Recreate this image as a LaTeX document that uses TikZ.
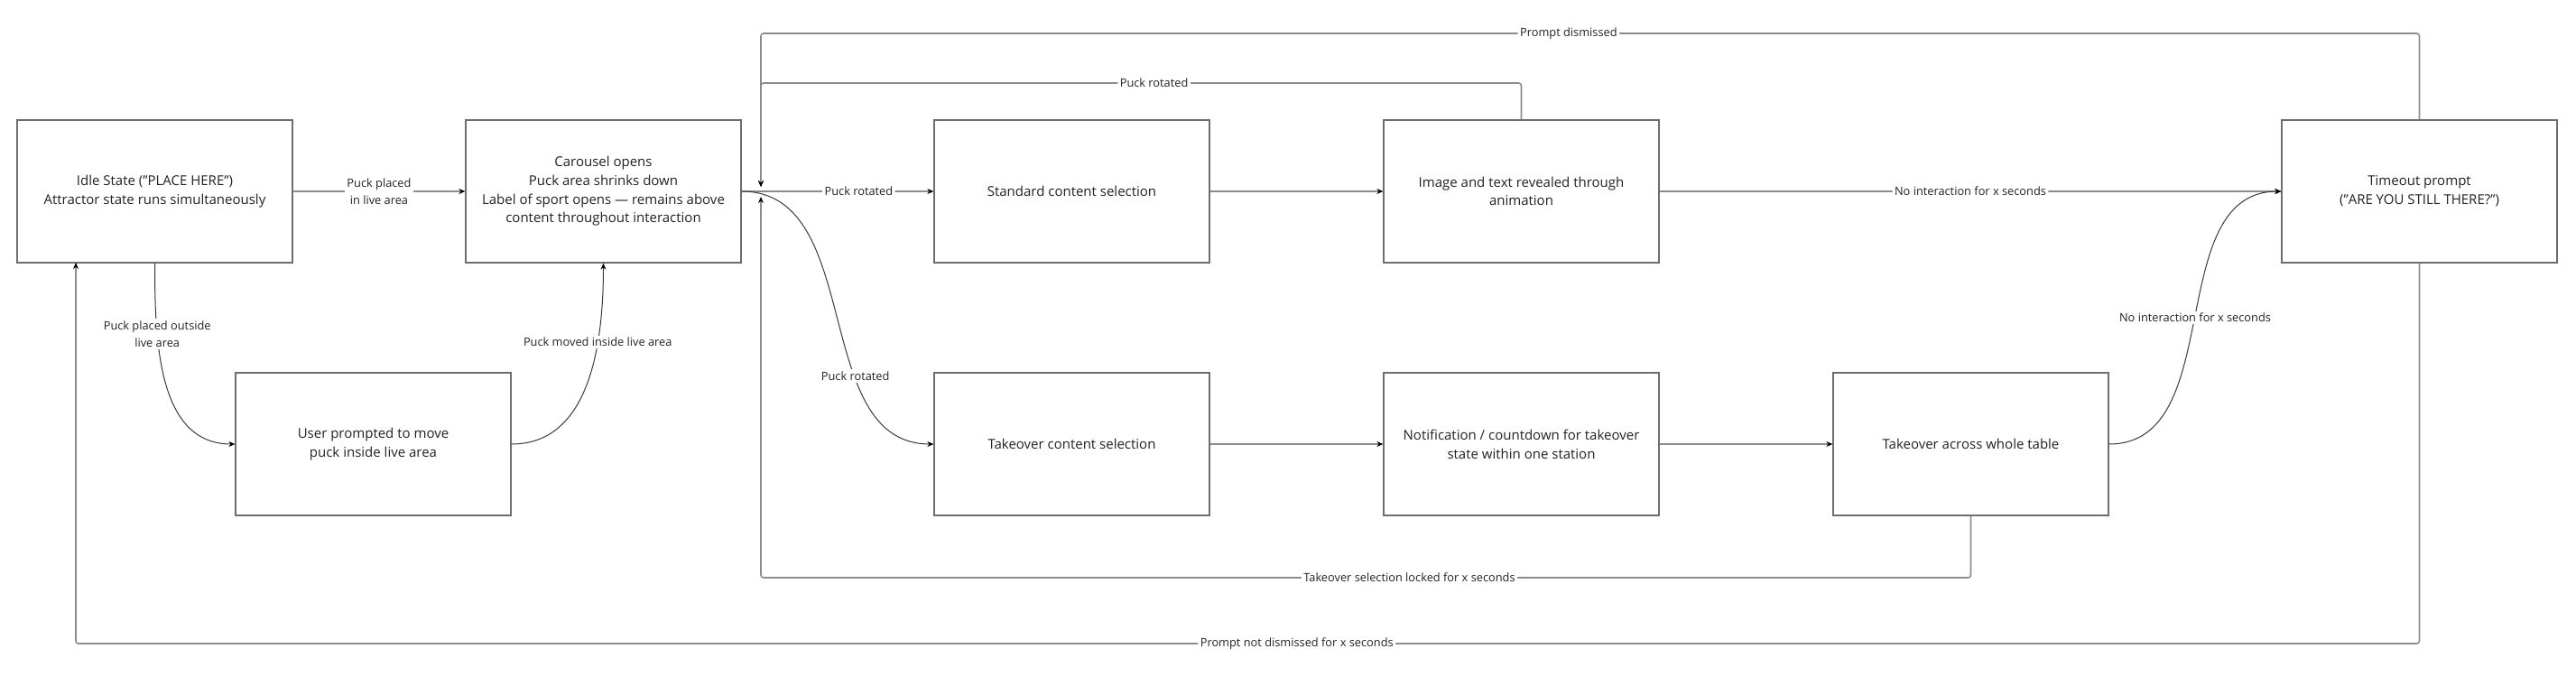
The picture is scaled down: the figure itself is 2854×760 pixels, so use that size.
\documentclass[tikz,border=0pt]{standalone}
\usepackage{fontspec}
\setmainfont{Open Sans}
\usetikzlibrary{arrows.meta}
\definecolor{boxline}{HTML}{6E6E6E}
\definecolor{conline}{HTML}{8C8C8C}
\definecolor{curveline}{HTML}{3A3A3A}
\definecolor{txt}{HTML}{222222}
\tikzset{
  statebox/.style={draw=boxline, line width=1.3pt, minimum width=305pt, minimum height=158pt,
    inner sep=0pt, align=center, text=txt, font=\fontsize{15}{20.7}\selectfont},
  conn/.style={draw=conline, line width=1.6pt, rounded corners=3pt,
    -{Stealth[length=7pt,width=6pt,black]}},
  curve/.style={draw=curveline, line width=1pt, -{Stealth[length=7pt,width=6pt,black]}},
  lbl/.style={fill=white, inner sep=2.5pt, align=center, text=txt, font=\fontsize{12.8}{19}\selectfont}
}
\begin{document}
\begin{tikzpicture}[x=1pt,y=-1pt]
\useasboundingbox (0,0) rectangle (2854,760);
\fill[white] (0,0) rectangle (2854,760);

\node[statebox] (idle) at (171.5,212) {Idle State ("PLACE HERE")\\Attractor state runs simultaneously};
\node[statebox] (carousel) at (668.5,212) {Carousel opens\\Puck area shrinks down\\Label of sport opens — remains above\\content throughout interaction};
\node[statebox] (prompt) at (413.5,492) {User prompted to move\\puck inside live area};
\node[statebox] (standard) at (1187.5,212) {Standard content selection};
\node[statebox] (image) at (1685.5,212) {Image and text revealed through\\animation};
\node[statebox] (timeout) at (2680.5,212) {Timeout prompt\\("ARE YOU STILL THERE?")};
\node[statebox] (tocontent) at (1187.5,492) {Takeover content selection};
\node[statebox] (notif) at (1685.5,492) {Notification / countdown for takeover\\state within one station};
\node[statebox] (across) at (2183.5,492) {Takeover across whole table};

\coordinate (inA) at (843,207);
\coordinate (inB) at (843,218);
\coordinate (idlein) at (84,291);

% straight connectors
\draw[conn] (idle.east) -- node[lbl]{Puck placed\\in live area} (carousel.west);
\draw[conn] (carousel.east) -- node[lbl,pos=0.61]{Puck rotated} (standard.west);
\draw[conn] (standard.east) -- (image.west);
\draw[conn] (image.east) -- node[lbl]{No interaction for x seconds} (timeout.west);
\draw[conn] (tocontent.east) -- (notif.west);
\draw[conn] (notif.east) -- (across.west);

% loops
\draw[conn] (image.north) -- (image.north |- 0,92) -- node[lbl,pos=0.483]{Puck rotated} (843,92) -- (inA);
\draw[conn] (timeout.north) -- (timeout.north |- 0,37) -- node[lbl,pos=0.513]{Prompt dismissed} (843,37) -- (inA);
\draw[conn] (across.south) -- (across.south |- 0,640) -- node[lbl,pos=0.464]{Takeover selection locked for x seconds} (843,640) -- (inB);
\draw[conn] (timeout.south) -- (timeout.south |- 0,713) -- node[lbl,pos=0.479]{Prompt not dismissed for x seconds} (84,713) -- (idlein);

% curves
\draw[curve] (idle.south) to[out=-90,in=180] node[lbl,pos=0.29]{Puck placed outside\\live area} (prompt.west);
\draw[curve] (prompt.east) to[out=0,in=-90] node[lbl,pos=0.68]{Puck moved inside live area} (carousel.south);
\draw[curve] (carousel.east) to[out=0,in=180] node[lbl,pos=0.66]{Puck rotated} (tocontent.west);
\draw[curve] (across.east) to[out=0,in=180] node[lbl,pos=0.5]{No interaction for x seconds} (timeout.west);
\end{tikzpicture}
\end{document}
